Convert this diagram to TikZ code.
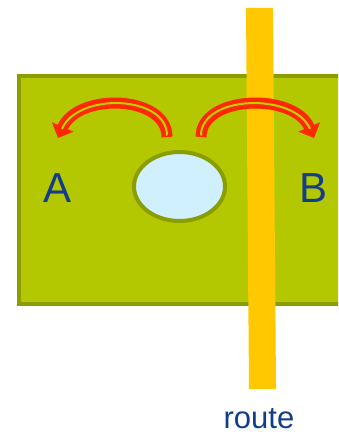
\documentclass[tikz,border=0pt]{standalone}
\usepackage{fontspec}
\setmainfont{Liberation Sans}
\usetikzlibrary{shapes.geometric,arrows.meta}
\definecolor{bgfill}{RGB}{179,200,0}
\definecolor{bgborder}{RGB}{138,158,0}
\definecolor{stripe}{RGB}{255,200,0}
\definecolor{holefill}{RGB}{208,240,255}
\definecolor{arrowred}{RGB}{255,40,0}
\definecolor{txtblue}{RGB}{20,60,140}
\tikzset{
  box/.style={draw=bgborder, fill=bgfill, line width=4pt},
  hole/.style={ellipse, draw=bgborder, fill=holefill, line width=4pt, minimum width=91pt, minimum height=69pt, inner sep=0pt},
  letter/.style={text=txtblue, font=\fontsize{42}{42}\selectfont, inner sep=0pt, anchor=base},
  lbl/.style={text=txtblue, font=\fontsize{31}{31}\selectfont, inner sep=0pt, anchor=base},
  hoparrow/.style={draw=arrowred, line width=11pt, -{Triangle[length=12pt,width=23pt]}},
  hopinner/.style={draw=bgfill!85!yellow, line width=2pt, shorten >=10pt, shorten <=1.5pt},
}
\begin{document}
\begin{tikzpicture}[x=1pt,y=-1pt]
\useasboundingbox (0,0) rectangle (338,435);
\clip (0,0) rectangle (338,435);
\draw[box] (19,76) rectangle (350,304);
\fill[stripe] (246,8) -- (273,8) -- (276,389) -- (249,389) -- cycle;
\node[hole] (hole) at (179.5,186.5) {};
\node[letter] (A) at (58,203) {A};
\node[letter] (B) at (313.5,203) {B};
\node[lbl] (route) at (259,428) {route};
\coordinate (lt) at (167,137);
\coordinate (lh) at (58,138);
\coordinate (rt) at (201,137);
\coordinate (rh) at (314,138);
\draw[hoparrow] (lt) .. controls (167,95) and (78,92) .. (lh);
\draw[hopinner] (lt) .. controls (167,95) and (78,92) .. (lh);
\draw[hoparrow] (rt) .. controls (201,95) and (294,92) .. (rh);
\draw[hopinner] (rt) .. controls (201,95) and (294,92) .. (rh);
\end{tikzpicture}
\end{document}
